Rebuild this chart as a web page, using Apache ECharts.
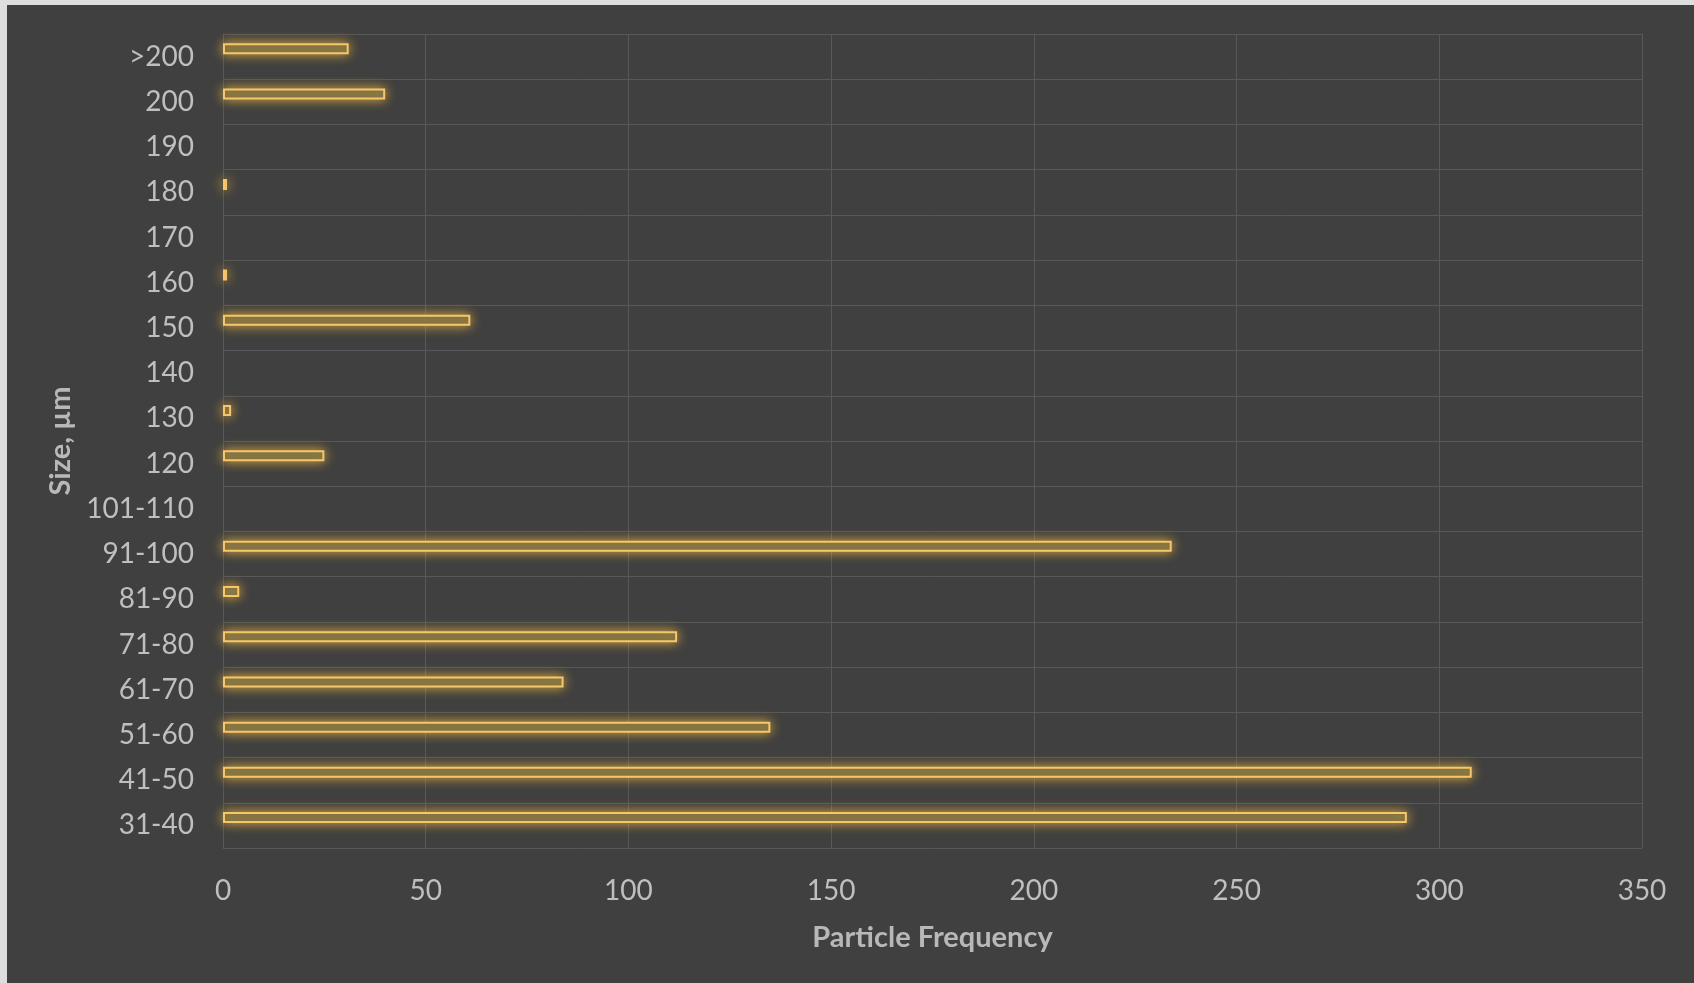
<!DOCTYPE html>
<html>
<head>
<meta charset="utf-8">
<title>Particle Frequency by Size</title>
<script src="https://cdn.jsdelivr.net/npm/echarts@6/dist/echarts.min.js"></script>
<style>
  html, body { margin: 0; padding: 0; background: #dedede; width: 1694px; height: 983px; overflow: hidden; }
  #chart { position: absolute; left: 7px; top: 5px; width: 1687px; height: 978px; background: #404040; }
</style>
</head>
<body>
<div id="chart"></div>
<script>
// Size bins, listed bottom to top
const sizeBins = ['31-40', '41-50', '51-60', '61-70', '71-80', '81-90', '91-100', '101-110',
                  '120', '130', '140', '150', '160', '170', '180', '190', '200', '>200'];
// Particle counts per bin (null = empty bin)
const particleCounts = [292, 308, 135, 84, 112, 4, 234, null,
                        25, 2, null, 61, 1, null, 1, null, 40, 31];
// Frequency axis ticks
const freqMin = 0;
const freqMax = 350;
const freqStep = 50;

const chart = echarts.init(document.getElementById('chart'));

const labelColor = '#bfbfbf';
const fontFamily = 'Lato, "Open Sans", sans-serif';

chart.setOption({
  backgroundColor: '#404040',
  animation: false,
  grid: { left: 216, right: 52, top: 29, bottom: 135, containLabel: false },
  xAxis: {
    type: 'value',
    min: freqMin,
    max: freqMax,
    interval: freqStep,
    name: 'Particle Frequency',
    nameLocation: 'middle',
    nameGap: 75,
    nameTextStyle: { color: '#b8b8b8', fontSize: 29, fontWeight: 'bold', fontFamily: fontFamily },
    axisLine: { show: false },
    axisTick: { show: false },
    axisLabel: { color: labelColor, fontSize: 28, fontFamily: fontFamily, margin: 29 },
    splitLine: { show: true, lineStyle: { color: '#585858', width: 1 } }
  },
  yAxis: {
    type: 'category',
    data: sizeBins,
    name: 'Size, µm',
    nameLocation: 'middle',
    nameGap: 146,
    nameRotate: 90,
    nameTextStyle: { color: '#b8b8b8', fontSize: 29, fontWeight: 'bold', fontFamily: fontFamily },
    axisLine: { show: true, lineStyle: { color: '#585858' } },
    axisTick: { show: false },
    axisLabel: { color: labelColor, fontSize: 28, fontFamily: fontFamily, margin: 29, padding: [5, 0, 0, 0] },
    splitLine: { show: true, lineStyle: { color: '#585858', width: 1 } },
    splitArea: { show: false },
    boundaryGap: true
  },
  series: [
    {
      type: 'bar',
      name: 'Frequency',
      data: particleCounts,
      barWidth: 11,
      barGap: '42%',
      itemStyle: {
        color: '#6e6642',
        borderColor: '#f7c66c',
        borderWidth: 2,
        shadowColor: 'rgba(255, 196, 60, 0.8)',
        shadowBlur: 12
      },
      z: 3
    },
    {
      type: 'bar',
      name: 'Blank',
      data: sizeBins.map(() => null),
      barWidth: 11
    }
  ]
});
</script>
</body>
</html>
